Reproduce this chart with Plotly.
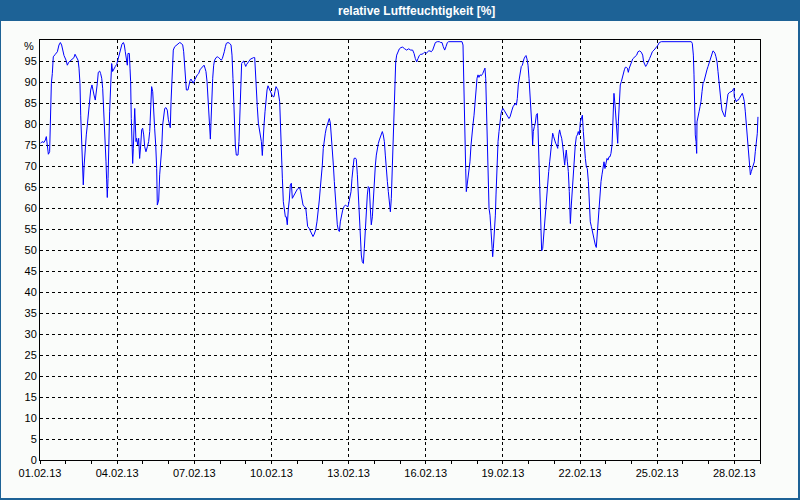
import datetime as dt
import plotly.graph_objects as go

# ---- data ----
start = "2013-02-01 00:00"
# hours elapsed since 01.02.2013 00:00
hours = [
    0.6, 1.9, 3.7, 5.0, 5.9, 6.8, 7.8, 9.0, 9.6, 10.6, 11.5, 12.4, 14.3, 16.2, 17.7, 19.0, 20.2, 21.2, 22.4, 24.3,
    25.5, 26.8, 28.3, 29.2, 30.5, 31.7, 32.7, 33.9, 34.8, 35.5, 36.4, 37.3, 38.0, 38.9, 39.5, 40.4, 41.1, 42.0, 43.2, 44.2,
    45.4, 46.4, 47.3, 48.5, 49.5, 50.4, 51.6, 52.6, 53.5, 54.4, 55.7, 56.6, 57.6, 58.5, 59.4, 60.4, 61.0, 61.6, 62.2, 62.8,
    63.5, 64.1, 65.0, 66.0, 66.9, 67.8, 69.1, 70.3, 71.6, 72.8, 74.0, 75.3, 76.5, 77.8, 78.7, 79.6, 80.6, 81.5, 82.1, 83.4,
    84.0, 84.6, 85.2, 85.9, 86.5, 87.1, 87.7, 88.4, 89.0, 89.6, 90.2, 91.2, 92.1, 93.0, 94.0, 94.9, 95.8, 96.8, 97.7, 98.9,
    100.2, 101.4, 102.4, 103.3, 104.2, 105.2, 106.1, 107.0, 108.0, 108.9, 109.5,
    110.8, 111.7, 112.6, 113.6, 114.5, 115.4, 116.4, 117.6, 118.8, 119.8, 120.7, 121.6, 122.3, 122.9, 123.5, 124.4, 125.7, 127.2, 128.8, 130.4,
    131.9, 133.2, 134.1, 135.0, 136.0, 136.6, 138.1, 139.1, 140.0, 140.9, 141.9, 143.1, 144.4, 145.6, 146.8, 148.1, 149.3, 150.6, 151.8, 153.1,
    154.0, 154.9, 155.9, 156.8, 157.7, 158.4, 159.0, 159.6, 160.2, 161.2, 162.1, 163.0, 164.3, 165.5, 166.8, 168.0, 169.2, 170.2, 171.1, 172.0,
    173.0, 173.9, 175.5, 177.0, 178.3, 179.2, 180.1, 180.8, 181.4, 182.3, 183.2, 184.8, 185.7, 186.7, 187.3, 188.2, 189.2, 190.1, 191.0, 192.0,
    192.9, 194.1, 195.4, 196.6, 197.9, 199.1, 200.4, 201.0, 201.9, 202.8, 203.8, 204.7, 205.6, 206.6, 207.5, 208.1, 209.1, 210.0, 210.9, 211.9,
    212.8, 213.7, 214.7, 215.6, 216.5, 217.5, 218.4, 219.3, 220.3, 221.2, 222.1,
    223.7, 224.6, 225.2, 226.2, 227.1, 228.0, 229.0, 229.9, 230.8, 231.8, 232.7, 233.6, 234.6, 235.5, 236.4, 237.7, 238.9, 240.2, 241.4, 242.4,
    243.3, 244.2, 245.5, 246.7, 248.0, 248.9, 249.8, 251.1, 252.3, 253.6, 254.8, 256.0, 257.3, 258.5, 259.8, 260.7, 261.6, 262.6, 263.5, 264.4,
    265.4, 266.3, 267.2, 268.2, 269.1, 270.0, 271.0, 271.9, 272.8, 273.8, 274.7, 275.6, 276.6, 277.5, 278.4, 279.4, 280.3, 281.2, 282.5, 283.7,
    285.0, 286.2, 287.5, 288.4, 289.3, 290.3, 291.2, 292.1, 293.1, 294.3, 295.2, 296.2, 297.1, 298.0, 299.0, 299.9, 300.8, 301.8, 302.7, 303.6,
    304.6, 305.5, 306.4, 307.4, 308.3, 309.2, 310.2, 311.1, 312.0, 313.0, 313.9, 314.8, 315.8, 316.7, 317.6, 318.6, 319.5, 320.4, 321.4, 322.3,
    323.2, 324.2, 325.1, 326.0, 327.0, 327.9, 328.8, 329.8, 330.4, 331.0, 332.0, 332.9, 334.1, 335.4, 336.9, 338.5,
    340.4, 342.2, 344.1, 346.0, 347.8, 349.1, 350.3, 351.6, 352.8, 354.0, 355.3, 356.5, 357.8, 359.0, 360.3, 361.5, 362.8, 364.0, 365.2, 366.5,
    367.7, 369.0, 370.8, 372.7, 374.0, 375.2, 376.4, 377.7, 378.9, 380.2, 381.4, 393.9, 394.8, 395.4, 396.0, 396.7, 397.3, 397.9, 398.5, 399.5,
    400.4, 401.3, 402.3, 403.2, 404.1, 405.1, 406.0, 406.9, 407.9, 408.8, 409.7, 410.7, 411.9, 413.2, 414.4, 415.3, 416.0, 416.6, 417.2, 417.8,
    418.4, 419.1, 420.0, 420.6, 421.6, 422.5, 423.1, 423.7, 424.4, 425.0, 425.6, 426.5, 427.5, 428.4, 429.3, 430.3, 431.2, 432.1, 433.1, 434.0,
    435.2, 436.5, 437.7, 438.7, 439.6, 440.5, 441.5, 442.7, 443.6, 444.6, 445.5, 446.4, 447.4, 448.3, 449.2, 450.2,
    450.8, 451.7, 452.7, 453.6, 454.5, 455.5, 456.4, 457.3, 458.3, 459.2, 459.8, 460.4, 461.4, 462.3, 463.2, 464.2, 464.8, 465.4, 466.0, 466.7,
    467.3, 468.2, 469.2, 470.1, 471.0, 472.0, 472.9, 473.8, 474.8, 475.7, 476.6, 477.6, 478.5, 479.4, 480.4, 481.3, 482.2, 483.2, 484.1, 485.0,
    486.0, 486.9, 487.8, 488.8, 489.7, 490.6, 491.2, 492.2, 493.1, 494.0, 495.0, 495.9, 496.8, 497.8, 498.7, 499.6, 500.6, 501.5, 502.4, 503.4,
    504.3, 505.2, 506.2, 507.1, 508.0, 509.0, 509.9, 510.8, 511.8, 512.7, 513.6, 514.6, 515.5, 516.4, 517.4, 518.3, 519.2, 520.2, 521.1, 521.7,
    522.7, 523.6, 524.5, 525.5, 526.4, 527.3, 528.3, 529.2, 530.1, 531.1, 532.0, 532.9, 533.9, 534.8, 535.7, 536.7, 537.6, 538.5, 539.2, 539.8,
    540.7, 541.6, 542.6, 543.5, 544.4, 545.4, 546.3, 547.2, 548.2, 549.1, 550.0, 551.0, 551.9, 553.2, 554.4, 555.6, 556.9,
    558.1, 559.7, 561.2, 562.5, 563.4, 564.4, 565.3, 566.5, 567.8, 569.0, 570.3, 571.5, 573.1, 574.3, 575.6, 576.8, 578.0, 579.9, 607.9, 608.8,
    609.8, 610.4, 611.0, 611.6, 612.3, 612.9, 613.2, 614.1, 615.1, 616.0, 616.9, 617.9, 618.8, 619.7, 620.7, 621.6, 622.5, 623.5, 624.4, 625.3,
    626.3, 627.2, 628.1, 629.1, 630.0, 630.9, 631.9, 632.8, 633.7, 634.7, 635.6, 636.5, 637.5, 638.4, 639.3, 640.3, 641.2, 642.1, 643.4, 644.6,
    645.9, 647.1, 647.7, 648.0, 649.0, 649.9, 650.8, 651.8, 652.7, 653.6, 654.6, 655.5, 656.4, 657.4, 658.3, 659.2, 660.2, 661.1, 662.0, 663.0,
    663.9, 664.8, 665.8, 666.7, 667.6, 668.6, 669.5, 670.1,
]
# relative humidity [%]
rh = [
    75.4, 75.8, 75.6, 76.2, 77.0, 75.0, 72.8, 73.4, 80.7, 89.7, 92.0, 96.0, 96.6, 97.2, 98.8, 99.4, 98.8, 97.4, 96.3, 95.2,
    94.0, 94.7, 95.0, 95.2, 95.6, 95.8, 96.6, 96.0, 95.6, 95.2, 93.3, 89.7, 82.1, 74.2, 70.2, 65.5, 69.8, 74.2, 77.4, 79.8,
    82.9, 85.3, 88.1, 89.3, 87.7, 86.9, 85.7, 87.3, 89.7, 92.3, 92.6, 92.0, 90.9, 88.5, 83.7, 80.2, 75.0, 71.0, 66.7, 62.5,
    67.0, 75.0, 82.9, 89.3, 94.4, 92.5, 93.3, 93.7, 94.2, 95.5, 96.8, 98.4, 99.0, 99.4, 98.8, 97.2, 95.0, 94.0, 96.8, 96.8,
    93.3, 90.1, 81.3, 75.0, 70.6, 74.2, 80.5, 83.7, 79.8, 75.8, 76.6, 75.0, 76.6, 71.8, 75.0, 78.6, 79.0, 77.4, 74.6, 73.4,
    74.6, 75.8, 78.2, 85.3, 88.9, 87.7, 84.5, 79.0, 75.0, 69.4, 60.7,
    61.9, 67.9, 70.2, 74.2, 79.8, 82.1, 83.7, 83.9, 83.3, 81.0, 79.8, 79.1, 85.3, 90.1, 94.8, 97.6, 98.4, 98.8, 99.2, 99.4,
    99.2, 98.8, 97.2, 93.3, 90.5, 88.1, 88.1, 89.7, 90.3, 90.7, 90.1, 89.7, 90.5, 91.3, 91.7, 92.0, 92.9, 93.3, 93.7, 94.0,
    93.3, 92.5, 90.1, 85.7, 82.1, 79.8, 76.4, 80.5, 85.3, 90.9, 94.0, 95.2, 95.8, 96.0, 95.8, 95.5, 95.2, 95.6, 96.3, 97.2,
    98.4, 99.2, 99.4, 99.2, 98.8, 96.4, 90.9, 85.3, 79.8, 75.0, 72.6, 72.6, 75.8, 85.3, 91.7, 94.4, 94.8, 95.0, 94.4, 93.7,
    94.2, 94.7, 95.2, 95.5, 95.6, 95.8, 95.8, 91.7, 86.5, 84.1, 80.2, 78.6, 78.2, 75.8, 72.5, 76.6, 79.8, 82.9, 85.7, 88.1,
    89.1, 88.5, 88.1, 87.3, 86.9, 86.5, 86.5, 87.7, 88.9, 88.5, 88.1,
    85.3, 80.2, 74.2, 67.1, 61.5, 59.9, 57.9, 57.9, 56.0, 59.9, 61.9, 65.5, 65.9, 62.3, 62.7, 63.5, 64.0, 64.5, 64.7, 64.8,
    63.9, 62.3, 60.7, 60.3, 60.1, 57.9, 55.6, 55.2, 54.4, 53.6, 53.2, 53.8, 54.8, 56.7, 59.1, 61.9, 64.7, 67.1, 70.2, 74.2,
    76.6, 77.8, 79.0, 79.8, 80.5, 81.3, 80.2, 77.4, 74.2, 70.2, 66.3, 62.3, 59.1, 56.0, 54.8, 54.4, 56.7, 58.3, 59.5, 60.3,
    60.7, 60.5, 60.3, 61.5, 62.7, 63.9, 67.1, 70.2, 71.8, 71.9, 71.6, 67.9, 63.1, 57.5, 52.0, 48.8, 47.2, 46.8, 50.4, 55.2,
    59.9, 63.1, 65.1, 64.8, 59.9, 56.0, 57.9, 63.1, 67.9, 70.2, 72.6, 74.2, 75.4, 76.2, 77.0, 77.4, 78.2, 77.4, 75.8, 72.6,
    68.7, 66.3, 63.9, 61.5, 59.1, 62.3, 69.4, 80.5, 86.9, 91.7, 94.8, 96.4, 97.2, 97.9, 98.2, 98.3,
    97.9, 97.6, 97.9, 97.6, 97.6, 96.8, 95.6, 94.8, 95.6, 96.3, 96.6, 96.6, 96.8, 97.1, 96.8, 97.1, 97.4, 97.4, 97.2, 97.6,
    98.4, 99.4, 99.6, 99.6, 99.4, 99.4, 98.4, 97.6, 98.4, 99.4, 99.6, 99.6, 98.8, 89.3, 81.3, 75.0, 69.4, 63.9, 65.1, 67.1,
    69.4, 71.0, 75.0, 78.2, 79.8, 82.1, 85.3, 88.5, 90.9, 91.7, 91.1, 91.7, 91.5, 92.0, 92.9, 93.3, 90.9, 85.3, 78.2, 72.6,
    66.3, 59.9, 58.3, 55.2, 51.2, 48.4, 50.4, 52.8, 55.2, 58.3, 63.1, 71.0, 75.8, 78.2, 80.5, 82.5, 83.3, 83.7, 83.3, 82.9,
    82.5, 81.9, 81.3, 81.7, 82.3, 83.3, 84.1, 84.5, 84.9, 84.5, 86.1, 89.3, 91.3, 92.5, 93.7, 94.0,
    94.8, 95.5, 96.0, 96.3, 95.5, 94.0, 90.9, 87.7, 83.3, 79.0, 75.0, 78.2, 79.4, 80.2, 82.1, 82.5, 79.0, 72.6, 66.3, 59.9,
    53.6, 49.8, 50.4, 53.6, 55.2, 59.1, 63.9, 66.3, 68.7, 71.0, 73.8, 76.2, 77.8, 77.0, 75.8, 75.4, 75.0, 74.2, 77.4, 78.6,
    77.4, 76.6, 75.0, 72.6, 70.2, 72.6, 73.8, 71.0, 68.7, 63.9, 56.3, 60.7, 64.7, 69.4, 72.6, 75.0, 77.0, 77.4, 78.2, 77.4,
    80.5, 81.7, 82.1, 78.2, 74.2, 71.8, 69.8, 69.4, 66.3, 60.7, 56.7, 55.6, 54.4, 52.8, 51.6, 51.2, 50.6, 54.4, 56.0, 59.9,
    63.1, 66.3, 67.9, 69.8, 71.0, 69.4, 70.6, 71.8, 71.4, 72.2, 72.2, 73.0, 75.0, 79.8, 87.3, 84.5, 81.3, 77.4, 75.4, 80.5,
    85.3, 89.3, 90.1, 91.3, 92.0, 92.9, 93.5, 93.5, 93.3, 92.3, 93.3, 94.0, 94.8, 95.5, 95.8, 96.0, 96.4,
    97.2, 97.4, 97.1, 96.4, 94.8, 93.9, 93.7, 94.2, 94.8, 95.6, 96.4, 97.2, 97.6, 97.9, 98.4, 98.8, 99.4, 99.6, 99.6, 99.2,
    96.4, 91.7, 82.1, 77.4, 75.8, 73.0, 80.5, 82.1, 82.9, 84.1, 85.3, 87.7, 89.7, 90.1, 91.3, 92.0, 92.9, 93.7, 94.4, 95.2,
    96.0, 96.6, 97.4, 97.2, 96.8, 96.0, 94.8, 92.5, 89.7, 87.3, 85.3, 83.3, 82.5, 82.1, 81.7, 83.7, 86.1, 87.1, 87.5, 87.7,
    87.8, 88.3, 88.5, 86.5, 85.7, 85.3, 85.7, 85.7, 86.1, 86.5, 87.1, 87.3, 86.5, 85.3, 82.9, 80.2, 75.8, 72.6, 71.0, 67.9,
    68.7, 69.4, 69.8, 71.0, 73.4, 75.8, 77.8, 81.7,
]
title_text = "relative Luftfeuchtigkeit [%]"
x_range = ["2013-02-01", "2013-03-01"]
y_ticks = list(range(0, 100, 5))

t0 = dt.datetime.strptime(start, "%Y-%m-%d %H:%M")
times = [t0 + dt.timedelta(hours=h) for h in hours]

BLUE = "#1d6296"
BG = "#fafcfa"
FONT = "Liberation Sans"

fig = go.Figure(go.Scatter(x=times, y=rh, mode="lines",
                           line=dict(color="#0000ff", width=1), hoverinfo="skip"))

# plot area: 40..760 px horizontally, 40..460 px vertically
L, T, W, H = 40, 40, 720, 420
def px(x):
    return (x - L) / W
def py(y):
    return (T + H - y) / H

fig.update_layout(
    width=800, height=500,
    margin=dict(l=40, r=40, t=40, b=40, pad=0),
    paper_bgcolor=BLUE,
    plot_bgcolor=BG,
    showlegend=False,
    font=dict(family=FONT, size=11, color="black"),
    shapes=[dict(type="rect", xref="paper", yref="paper", layer="below",
                 x0=px(1), x1=px(798), y0=py(498), y1=py(21),
                 fillcolor=BG, line=dict(width=0))],
    annotations=[
        dict(text="<b>" + title_text + "</b>", xref="paper", yref="paper",
             x=px(416), y=py(10.5), xanchor="center", yanchor="middle",
             showarrow=False, font=dict(family=FONT, size=12, color="white")),
        dict(text="%", xref="paper", yref="paper", x=0, y=py(46),
             xanchor="right", yanchor="middle", xshift=-4, showarrow=False,
             font=dict(family=FONT, size=11, color="black")),
    ],
)
fig.update_xaxes(
    type="date", range=x_range, tick0=x_range[0], dtick=3 * 86400000,
    tickformat="%d.%m.%y", ticks="outside", ticklen=3, tickcolor="black",
    showgrid=True, gridcolor="black", gridwidth=1, griddash="3px,3px",
    showline=True, linecolor="black", linewidth=1, mirror=True, zeroline=False,
    minor=dict(dtick=86400000, tick0=x_range[0], ticks="outside", ticklen=3,
               tickcolor="black", showgrid=False),
    tickfont=dict(family=FONT, size=11, color="black"),
)
fig.update_yaxes(
    range=[0, 100], tickmode="array", tickvals=y_ticks,
    ticktext=[str(v) for v in y_ticks], ticks="",
    showgrid=True, gridcolor="black", gridwidth=1, griddash="3px,3px",
    showline=True, linecolor="black", linewidth=1, mirror=True, zeroline=False,
    tickfont=dict(family=FONT, size=11, color="black"),
)

fig.write_html("out.html")
